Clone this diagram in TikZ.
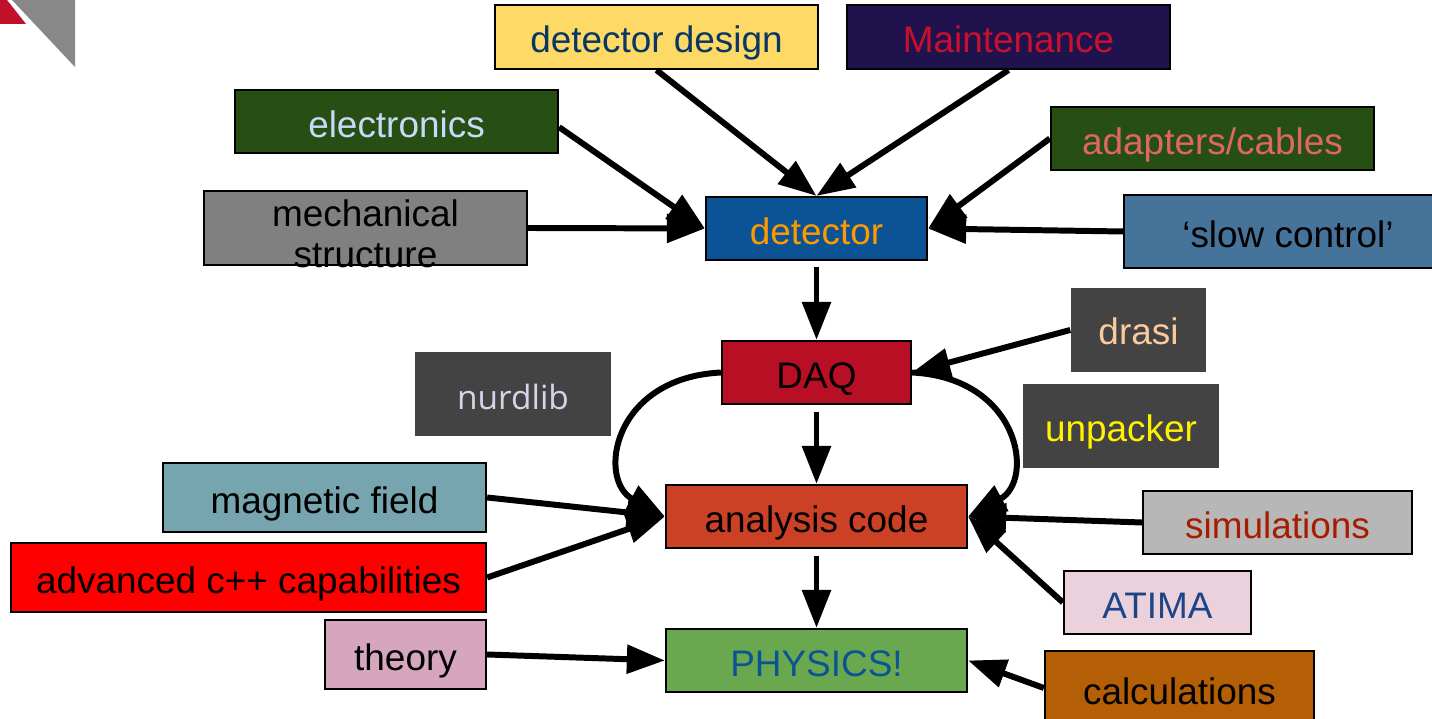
\documentclass[tikz,border=0pt]{standalone}
\usepackage{fontspec}
\setmainfont{Liberation Sans}
\newfontfamily\nurdfont{Open Sans}
\usetikzlibrary{arrows.meta}
\definecolor{cornerred}{HTML}{C0102A}
\definecolor{cornergray}{HTML}{888888}
\definecolor{ddfill}{HTML}{FFD966}
\definecolor{ddtext}{HTML}{073763}
\definecolor{mafill}{HTML}{20124D}
\definecolor{matext}{HTML}{C8102E}
\definecolor{dkgreen}{HTML}{274E13}
\definecolor{eltext}{HTML}{C9DAF8}
\definecolor{adtext}{HTML}{E06666}
\definecolor{mefill}{HTML}{808080}
\definecolor{defill}{HTML}{0B5394}
\definecolor{detext}{HTML}{FF9900}
\definecolor{slfill}{HTML}{45739A}
\definecolor{dkgray}{HTML}{434343}
\definecolor{drtext}{HTML}{F9CB9C}
\definecolor{nutext}{HTML}{D9D2E9}
\definecolor{dafill}{HTML}{B80F25}
\definecolor{mgfill}{HTML}{76A5AF}
\definecolor{anfill}{HTML}{CC4125}
\definecolor{sifill}{HTML}{B7B7B7}
\definecolor{sitext}{HTML}{A61C00}
\definecolor{atfill}{HTML}{EAD1DC}
\definecolor{attext}{HTML}{1C4587}
\definecolor{thfill}{HTML}{D5A6BD}
\definecolor{phfill}{HTML}{6AA84F}
\definecolor{phtext}{HTML}{0B5394}
\definecolor{cafill}{HTML}{B45F06}
\tikzset{
  box/.style={draw=black, line width=0.6pt, inner sep=0pt, text height=0.32cm, text depth=0pt, font=\fontsize{10.5pt}{12pt}\selectfont},
  dbox/.style={fill=dkgray, inner sep=0pt, text height=0.30cm, text depth=0pt, font=\fontsize{10.5pt}{12pt}\selectfont},
  conn/.style={line width=1.7pt, ->}
}
\begin{document}
\begin{tikzpicture}[x=0.01cm, y=-0.01cm, >={Triangle[length=3.8mm,width=2.8mm]}]
\useasboundingbox (0,0) rectangle (1432,719);
% corner marks
\fill[cornerred] (0,0) -- (7,0) -- (26,24) -- (0,24) -- cycle;
\fill[cornergray] (12,0) -- (75,0) -- (75,67) -- cycle;

% boxes
\node[box, fill=ddfill, text=ddtext, minimum width=3.23cm, minimum height=0.64cm] (dd) at (656.5,37) {detector design};
\node[box, fill=mafill, text=matext, minimum width=3.23cm, minimum height=0.64cm] (ma) at (1008.5,37) {Maintenance};
\node[box, fill=dkgreen, text=eltext, minimum width=3.23cm, minimum height=0.63cm] (el) at (396.5,121.5) {electronics};
\node[box, fill=dkgreen, text=adtext, minimum width=3.23cm, minimum height=0.63cm] (ad) at (1212.5,138.5) {adapters/cables};
\node[box, fill=mefill, minimum width=3.23cm, minimum height=0.74cm] (me) at (365.5,228) {};
\node[inner sep=0pt, align=center, font=\fontsize{10.5pt}{11.5pt}\selectfont] (metext) at (365.5,234) {mechanical\\structure};
\node[box, fill=defill, text=detext, minimum width=2.21cm, minimum height=0.63cm] (de) at (816.5,228.5) {detector};
\node[box, fill=slfill, minimum width=3.28cm, minimum height=0.73cm] (sl) at (1288,231.5) {`slow control'};
\node[dbox, text=drtext, minimum width=1.35cm, minimum height=0.84cm] (dr) at (1138.5,330) {drasi};
\node[dbox, text=nutext, font=\nurdfont\fontsize{9.5pt}{11pt}\selectfont, minimum width=1.96cm, minimum height=0.84cm] (nu) at (513,394) {nurdlib};
\node[box, fill=dafill, minimum width=1.89cm, minimum height=0.63cm] (da) at (816.5,372.5) {DAQ};
\node[dbox, text=yellow, minimum width=1.96cm, minimum height=0.84cm] (un) at (1121,426) {unpacker};
\node[box, fill=mgfill, minimum width=3.23cm, minimum height=0.69cm] (mg) at (324.5,497.5) {magnetic field};
\node[box, fill=anfill, minimum width=3.01cm, minimum height=0.63cm] (an) at (816.5,516.5) {analysis code};
\node[box, fill=sifill, text=sitext, minimum width=2.69cm, minimum height=0.63cm] (si) at (1277.5,522.5) {simulations};
\node[box, fill=red, minimum width=4.75cm, minimum height=0.69cm] (ac) at (248.5,577.5) {advanced c++ capabilities};
\node[box, fill=atfill, text=attext, minimum width=1.87cm, minimum height=0.63cm] (at) at (1157.5,602.5) {ATIMA};
\node[box, fill=thfill, minimum width=1.61cm, minimum height=0.69cm] (th) at (405.5,654.5) {theory};
\node[box, fill=phfill, text=phtext, minimum width=3.01cm, minimum height=0.63cm] (ph) at (816.5,660.5) {PHYSICS!};
\node[box, fill=cafill, minimum width=2.69cm, minimum height=0.74cm] (ca) at (1179.5,688) {calculations};

% into detector
\draw[conn] (dd.south) -- (de.north);
\draw[conn] (ma.south) -- (de.north);
\draw[conn] (el.-2.5) -- (de.west);
\draw[conn] (me.east) -- (de.west);
\draw[conn] (ad.west) -- (de.east);
\draw[conn] (sl.west) -- (de.east);
% chain
\draw[conn, shorten <=0.06cm] (de.south) -- (da.north);
\draw[conn] (dr.west) -- (da.east);
\draw[conn, shorten <=0.07cm] (da.south) -- (an.north);
\draw[conn] (da.west) .. controls (612,378) and (597,480) .. (an.west);
\draw[conn] (da.east) .. controls (1020,378) and (1035,480) .. (an.east);
% into analysis code
\draw[conn] (mg.east) -- (an.west);
\draw[conn] (ac.east) -- (an.west);
\draw[conn] (si.west) -- (an.east);
\draw[conn] (at.west) -- (an.east);
% into physics
\draw[conn, shorten <=0.07cm] (an.south) -- (ph.north);
\draw[conn] (th.east) -- (ph.west);
\draw[conn] (ca.west) -- (ph.east);

\end{tikzpicture}
\end{document}
